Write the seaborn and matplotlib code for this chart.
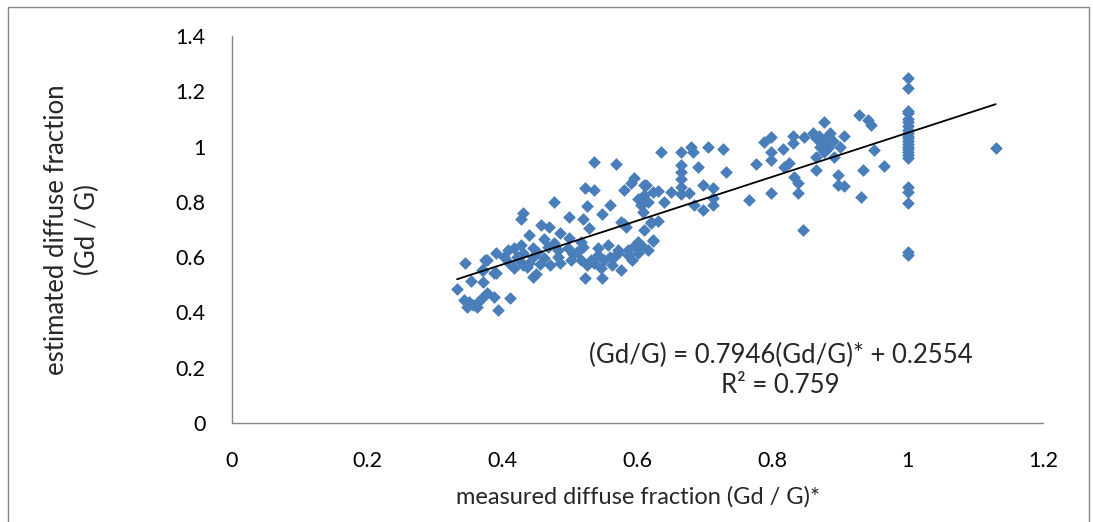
import numpy as np
import pandas as pd
import matplotlib
matplotlib.use("Agg")
import matplotlib.pyplot as plt
import seaborn as sns
from matplotlib.lines import Line2D

# ---- data ----
measured = [
    0.333, 0.345, 0.353, 0.343, 0.350, 0.357, 0.364, 0.370, 0.348, 0.362, 0.372, 0.375, 0.390, 0.372, 0.387,
    0.378, 0.387, 0.393, 0.370, 0.390, 0.378,
    0.402, 0.408, 0.412, 0.417, 0.417, 0.422, 0.427, 0.427, 0.431, 0.431, 0.437, 0.439, 0.445, 0.446, 0.446,
    0.457, 0.461, 0.461, 0.467, 0.469, 0.476, 0.476, 0.482, 0.482, 0.486, 0.471, 0.485, 0.456, 0.497, 0.498,
    0.498, 0.501, 0.440, 0.450, 0.452, 0.410, 0.425, 0.430,
    0.516, 0.516, 0.520, 0.520, 0.523, 0.523, 0.526, 0.526, 0.528, 0.531, 0.535, 0.535, 0.541, 0.541, 0.546,
    0.548, 0.548, 0.550, 0.556, 0.560, 0.563, 0.568, 0.571, 0.571, 0.575, 0.575, 0.580, 0.583, 0.586, 0.586,
    0.590, 0.595, 0.597, 0.600, 0.600, 0.600, 0.510, 0.535, 0.560, 0.580, 0.592, 0.565, 0.505,
    0.608, 0.609, 0.610, 0.612, 0.615, 0.620, 0.620, 0.623, 0.623, 0.623, 0.635, 0.639, 0.649, 0.664, 0.664,
    0.664, 0.664, 0.664, 0.664, 0.676, 0.679, 0.682, 0.683, 0.689, 0.697, 0.697, 0.605, 0.615, 0.630, 0.610,
    0.630, 0.607,
    0.704, 0.712, 0.712, 0.712, 0.726, 0.731, 0.765, 0.775, 0.787, 0.797, 0.797, 0.797, 0.797, 0.815, 0.817,
    0.824, 0.830, 0.830, 0.832, 0.838, 0.838, 0.845, 0.847, 0.864, 0.864, 0.864, 0.869, 0.872, 0.876, 0.876,
    0.879, 0.882, 0.891, 0.897, 0.897, 0.906, 0.928, 0.930, 0.934, 0.941, 0.946, 0.950, 0.964, 0.885, 0.890,
    0.900, 0.905, 0.870, 0.860,
    1.0, 1.0, 1.0, 1.0, 1.0, 1.0, 1.0, 1.0, 1.0, 1.0, 1.0, 1.0, 1.0, 1.0, 1.0, 1.0, 1.0, 1.0, 1.0, 1.0,
    1.0, 1.0, 1.0,
    1.130,
]
estimated = [
    0.485, 0.580, 0.514, 0.445, 0.438, 0.427, 0.438, 0.452, 0.420, 0.420, 0.510, 0.590, 0.615, 0.553, 0.543,
    0.470, 0.456, 0.410, 0.553, 0.543, 0.590,
    0.600, 0.626, 0.452, 0.633, 0.560, 0.600, 0.644, 0.738, 0.760, 0.615, 0.564, 0.680, 0.528, 0.633, 0.600,
    0.716, 0.666, 0.597, 0.637, 0.710, 0.800, 0.650, 0.626, 0.600, 0.687, 0.570, 0.580, 0.575, 0.633, 0.745,
    0.670, 0.590, 0.580, 0.540, 0.620, 0.580, 0.590, 0.570,
    0.655, 0.590, 0.738, 0.637, 0.850, 0.525, 0.785, 0.570, 0.705, 0.590, 0.944, 0.843, 0.633, 0.608, 0.560,
    0.756, 0.525, 0.590, 0.644, 0.790, 0.570, 0.937, 0.626, 0.615, 0.727, 0.553, 0.843, 0.710, 0.626, 0.608,
    0.868, 0.886, 0.644, 0.810, 0.655, 0.615, 0.620, 0.580, 0.600, 0.720, 0.590, 0.600, 0.610,
    0.763, 0.861, 0.825, 0.861, 0.626, 0.724, 0.727, 0.836, 0.662, 0.660, 0.980, 0.800, 0.836, 0.980, 0.933,
    0.908, 0.883, 0.854, 0.828, 0.832, 1.000, 0.980, 0.789, 0.926, 0.861, 0.770, 0.790, 0.800, 0.840, 0.700,
    0.730, 0.640,
    1.000, 0.850, 0.814, 0.789, 0.990, 0.908, 0.807, 0.937, 1.017, 1.035, 0.980, 0.950, 0.832, 0.990, 0.926,
    0.940, 1.040, 1.013, 0.890, 0.868, 0.832, 0.700, 1.035, 1.030, 0.962, 0.915, 1.040, 1.013, 1.090, 0.980,
    1.030, 0.995, 0.962, 0.897, 0.861, 0.857, 1.114, 0.818, 0.915, 1.096, 1.078, 0.988, 0.930, 1.050, 1.020,
    1.000, 1.040, 1.000, 1.050,
    1.248, 1.212, 1.130, 1.120, 1.100, 1.090, 1.075, 1.060, 1.050, 1.040, 1.030, 1.020, 1.010, 1.000, 0.990,
    0.980, 0.970, 0.960, 0.854, 0.836, 0.796, 0.620, 0.608,
    0.995,
]
slope = 0.7946
intercept = 0.2554
r_squared = 0.759

x_ticks = [0, 0.2, 0.4, 0.6, 0.8, 1, 1.2]
x_tick_labels = ["0", "0.2", "0.4", "0.6", "0.8", "1", "1.2"]
y_ticks = [0, 0.2, 0.4, 0.6, 0.8, 1, 1.2, 1.4]
y_tick_labels = ["0", "0.2", "0.4", "0.6", "0.8", "1", "1.2", "1.4"]

df = pd.DataFrame({"measured": measured, "estimated": estimated})

sns.set_theme(style="white")
plt.rcParams["font.family"] = ["Lato", "DejaVu Sans"]

W, H = 1093, 522
fig = plt.figure(figsize=(W / 100, H / 100), dpi=100)
ax = fig.add_axes([232 / W, 1 - 423 / H, (1043 - 232) / W, (423 - 36) / H])

sns.scatterplot(data=df, x="measured", y="estimated", ax=ax, marker="D",
                s=42, color="#4A7EBB", edgecolor="#4A7EBB", linewidth=0, zorder=2)

xs = np.array([min(measured), max(measured)])
trend = pd.DataFrame({"x": xs, "y": slope * xs + intercept})
sns.lineplot(data=trend, x="x", y="y", ax=ax, color="black", linewidth=1.3, zorder=3)

ax.set_xlim(0, 1.2)
ax.set_ylim(0, 1.4)
ax.set_xticks(x_ticks)
ax.set_xticklabels(x_tick_labels)
ax.set_yticks(y_ticks)
ax.set_yticklabels(y_tick_labels)
ax.tick_params(axis="both", length=0, labelsize=15.5, colors="#000000")
ax.tick_params(axis="x", pad=20)
ax.tick_params(axis="y", pad=19)

for s in ["top", "right"]:
    ax.spines[s].set_visible(False)
for s in ["left", "bottom"]:
    ax.spines[s].set_color("#868686")
    ax.spines[s].set_linewidth(1)

ax.set_xlabel("measured diffuse fraction (Gd / G)*", fontsize=17, labelpad=11)
ax.set_ylabel("estimated diffuse fraction\n(Gd / G)", fontsize=18.5, linespacing=1.3)
ax.yaxis.set_label_coords(-0.163, 0.5)
ax.grid(False)

ax.text(0.812, 0.246, f"(Gd/G) = {slope}(Gd/G)* + {intercept}", fontsize=18.5,
        ha="center", va="center")
ax.text(0.812, 0.137, f"R² = {r_squared}", fontsize=18.5, ha="center", va="center")

# chart-area border
border_color = "#868686"
fig.add_artist(Line2D([8 / W, 8 / W], [0, 1 - 7 / H], transform=fig.transFigure, color=border_color, lw=1))
fig.add_artist(Line2D([8 / W, 1089 / W], [1 - 7 / H, 1 - 7 / H], transform=fig.transFigure, color=border_color, lw=1))
fig.add_artist(Line2D([1089 / W, 1089 / W], [0, 1 - 7 / H], transform=fig.transFigure, color=border_color, lw=1))

fig.savefig("out.png", dpi=100)
